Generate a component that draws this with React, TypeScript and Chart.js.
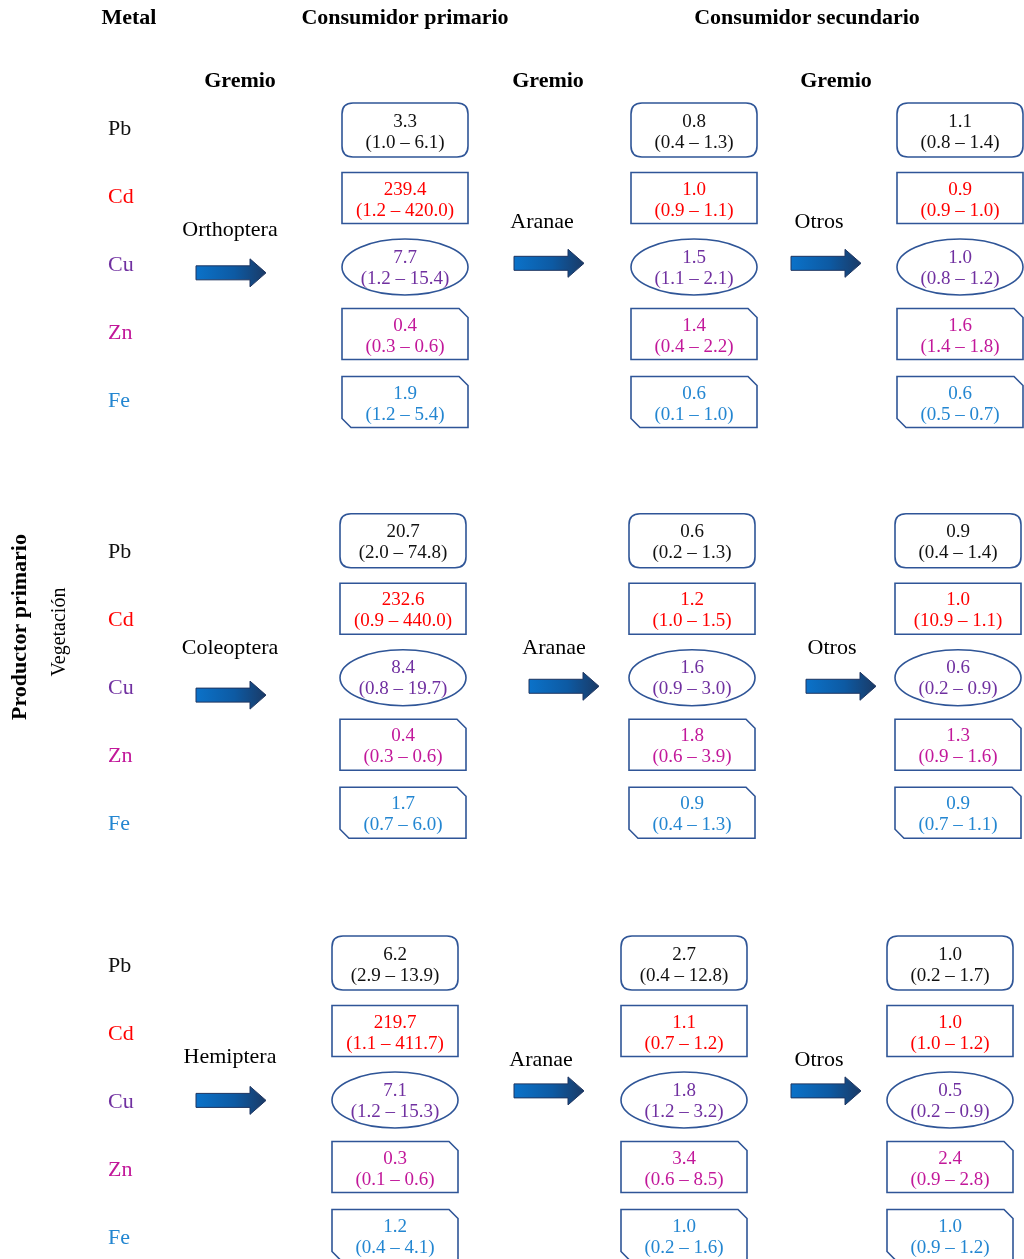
import React, { useEffect, useRef } from 'react';
import { Chart, registerables } from 'chart.js';

Chart.register(...registerables);

// ---------- data ----------
const METALS = ['Pb', 'Cd', 'Cu', 'Zn', 'Fe'];
const GUILDS_1 = ['Orthoptera', 'Coleoptera', 'Hemiptera'];
const GUILDS_2 = ['Aranae', 'Aranae', 'Aranae'];
const GUILDS_3 = ['Otros', 'Otros', 'Otros'];
const HEADERS = ['Metal', 'Consumidor primario', 'Consumidor secundario'];
const SUBHEADER = 'Gremio';
const SIDE_TITLE = 'Productor primario';
const SIDE_SUBTITLE = 'Vegetación';

// Orthoptera chain
const ORTHO_MEAN = [3.3, 239.4, 7.7, 0.4, 1.9];
const ORTHO_LOW = [1.0, 1.2, 1.2, 0.3, 1.2];
const ORTHO_HIGH = [6.1, 420.0, 15.4, 0.6, 5.4];
const ORTHO_ARANAE_MEAN = [0.8, 1.0, 1.5, 1.4, 0.6];
const ORTHO_ARANAE_LOW = [0.4, 0.9, 1.1, 0.4, 0.1];
const ORTHO_ARANAE_HIGH = [1.3, 1.1, 2.1, 2.2, 1.0];
const ORTHO_OTROS_MEAN = [1.1, 0.9, 1.0, 1.6, 0.6];
const ORTHO_OTROS_LOW = [0.8, 0.9, 0.8, 1.4, 0.5];
const ORTHO_OTROS_HIGH = [1.4, 1.0, 1.2, 1.8, 0.7];

// Coleoptera chain
const COLEO_MEAN = [20.7, 232.6, 8.4, 0.4, 1.7];
const COLEO_LOW = [2.0, 0.9, 0.8, 0.3, 0.7];
const COLEO_HIGH = [74.8, 440.0, 19.7, 0.6, 6.0];
const COLEO_ARANAE_MEAN = [0.6, 1.2, 1.6, 1.8, 0.9];
const COLEO_ARANAE_LOW = [0.2, 1.0, 0.9, 0.6, 0.4];
const COLEO_ARANAE_HIGH = [1.3, 1.5, 3.0, 3.9, 1.3];
const COLEO_OTROS_MEAN = [0.9, 1.0, 0.6, 1.3, 0.9];
const COLEO_OTROS_LOW = [0.4, 10.9, 0.2, 0.9, 0.7];
const COLEO_OTROS_HIGH = [1.4, 1.1, 0.9, 1.6, 1.1];

// Hemiptera chain
const HEMI_MEAN = [6.2, 219.7, 7.1, 0.3, 1.2];
const HEMI_LOW = [2.9, 1.1, 1.2, 0.1, 0.4];
const HEMI_HIGH = [13.9, 411.7, 15.3, 0.6, 4.1];
const HEMI_ARANAE_MEAN = [2.7, 1.1, 1.8, 3.4, 1.0];
const HEMI_ARANAE_LOW = [0.4, 0.7, 1.2, 0.6, 0.2];
const HEMI_ARANAE_HIGH = [12.8, 1.2, 3.2, 8.5, 1.6];
const HEMI_OTROS_MEAN = [1.0, 1.0, 0.5, 2.4, 1.0];
const HEMI_OTROS_LOW = [0.2, 1.0, 0.2, 0.9, 0.9];
const HEMI_OTROS_HIGH = [1.7, 1.2, 0.9, 2.8, 1.2];

// ---------- layout / style ----------
const W = 1024;
const H = 1259;
const ROW_PX = 68;
const ROW0_PX = 128;
const GROUP_ROW = [0, 6.22, 12.31];
const BOX_ROW_SHIFT = [0.03, -0.15, -0.03];
const COLUMN_X = [405, 694, 960];
const GROUP_X_SHIFT = [0, -2, -10];
const METAL_COLORS = ['#111111', '#ff0000', '#7030a0', '#c2189a', '#2386d1'];
const SHAPES = ['round', 'rect', 'ellipse', 'snip1', 'snip2'];
const BORDER = '#2f5597';
const FONT = "'Liberation Serif', 'Times New Roman', serif";
const ARROW_START = [
  [196, 514, 791],
  [196, 529, 806],
  [196, 514, 791],
];
const ARROW_ROW = [
  [2.13, 1.99, 1.99],
  [2.12, 1.99, 1.99],
  [1.99, 1.85, 1.85],
];
const GUILD_LABEL_X = [
  [230, 542, 819],
  [230, 554, 832],
  [230, 541, 819],
];
const GUILD_LABEL_ROW = [
  [1.51, 1.38, 1.38],
  [1.43, 1.43, 1.43],
  [1.35, 1.4, 1.4],
];

const CHAINS = [
  [
    [ORTHO_MEAN, ORTHO_LOW, ORTHO_HIGH],
    [ORTHO_ARANAE_MEAN, ORTHO_ARANAE_LOW, ORTHO_ARANAE_HIGH],
    [ORTHO_OTROS_MEAN, ORTHO_OTROS_LOW, ORTHO_OTROS_HIGH],
  ],
  [
    [COLEO_MEAN, COLEO_LOW, COLEO_HIGH],
    [COLEO_ARANAE_MEAN, COLEO_ARANAE_LOW, COLEO_ARANAE_HIGH],
    [COLEO_OTROS_MEAN, COLEO_OTROS_LOW, COLEO_OTROS_HIGH],
  ],
  [
    [HEMI_MEAN, HEMI_LOW, HEMI_HIGH],
    [HEMI_ARANAE_MEAN, HEMI_ARANAE_LOW, HEMI_ARANAE_HIGH],
    [HEMI_OTROS_MEAN, HEMI_OTROS_LOW, HEMI_OTROS_HIGH],
  ],
];

function shapePath(ctx: CanvasRenderingContext2D, shape: string, cx: number, cy: number) {
  const w = 126;
  const h = 51;
  const l = cx - w / 2;
  const r = cx + w / 2;
  const t = cy - h / 2;
  const b = cy + h / 2;
  const s = 9;
  ctx.beginPath();
  if (shape === 'round') {
    const rad = 11;
    const hh = 54;
    const tt = cy - hh / 2;
    const bb = cy + hh / 2;
    ctx.moveTo(l + rad, tt);
    ctx.lineTo(r - rad, tt);
    ctx.quadraticCurveTo(r, tt, r, tt + rad);
    ctx.lineTo(r, bb - rad);
    ctx.quadraticCurveTo(r, bb, r - rad, bb);
    ctx.lineTo(l + rad, bb);
    ctx.quadraticCurveTo(l, bb, l, bb - rad);
    ctx.lineTo(l, tt + rad);
    ctx.quadraticCurveTo(l, tt, l + rad, tt);
  } else if (shape === 'rect') {
    ctx.rect(l, t, w, h);
  } else if (shape === 'ellipse') {
    ctx.ellipse(cx, cy + 1, 63, 28, 0, 0, Math.PI * 2);
  } else if (shape === 'snip1') {
    ctx.moveTo(l, t);
    ctx.lineTo(r - s, t);
    ctx.lineTo(r, t + s);
    ctx.lineTo(r, b);
    ctx.lineTo(l, b);
  } else {
    ctx.moveTo(l, t);
    ctx.lineTo(r - s, t);
    ctx.lineTo(r, t + s);
    ctx.lineTo(r, b);
    ctx.lineTo(l + s, b);
    ctx.lineTo(l, b - s);
  }
  ctx.closePath();
}

function drawArrow(ctx: CanvasRenderingContext2D, x0: number, cy: number) {
  const bodyLen = 54;
  const len = 70;
  const bh = 7;
  const hh = 14;
  const grad = ctx.createLinearGradient(x0, 0, x0 + len, 0);
  grad.addColorStop(0, '#0b72c9');
  grad.addColorStop(0.55, '#0d5aa3');
  grad.addColorStop(1, '#1a3a66');
  ctx.beginPath();
  ctx.moveTo(x0, cy - bh);
  ctx.lineTo(x0 + bodyLen, cy - bh);
  ctx.lineTo(x0 + bodyLen, cy - hh);
  ctx.lineTo(x0 + len, cy);
  ctx.lineTo(x0 + bodyLen, cy + hh);
  ctx.lineTo(x0 + bodyLen, cy + bh);
  ctx.lineTo(x0, cy + bh);
  ctx.closePath();
  ctx.fillStyle = grad;
  ctx.fill();
  ctx.strokeStyle = '#1f3560';
  ctx.lineWidth = 1;
  ctx.stroke();
}

const diagramPlugin = {
  id: 'diagram',
  afterDatasetsDraw(chart: any) {
    const ctx: CanvasRenderingContext2D = chart.ctx;
    const xs = chart.scales.x;
    const ys = chart.scales.y;
    const px = (v: number) => xs.getPixelForValue(v);
    const py = (r: number) => ys.getPixelForValue(r);
    ctx.save();
    ctx.textAlign = 'center';
    ctx.textBaseline = 'middle';

    // headers
    ctx.fillStyle = '#000';
    ctx.font = `bold 22px ${FONT}`;
    const headerRow = (18 - ROW0_PX) / ROW_PX;
    const subRow = (81 - ROW0_PX) / ROW_PX;
    ctx.fillText(HEADERS[0], px(129), py(headerRow));
    ctx.fillText(HEADERS[1], px(405), py(headerRow));
    ctx.fillText(HEADERS[2], px(807), py(headerRow));
    [240, 548, 836].forEach((x) => ctx.fillText(SUBHEADER, px(x), py(subRow)));

    // side titles
    ctx.save();
    ctx.translate(px(20), py((627 - ROW0_PX) / ROW_PX));
    ctx.rotate(-Math.PI / 2);
    ctx.font = `bold 22px ${FONT}`;
    ctx.fillText(SIDE_TITLE, 0, 0);
    ctx.restore();
    ctx.save();
    ctx.translate(px(60), py((632 - ROW0_PX) / ROW_PX));
    ctx.rotate(-Math.PI / 2);
    ctx.font = `20px ${FONT}`;
    ctx.fillText(SIDE_SUBTITLE, 0, 0);
    ctx.restore();

    // metal labels, guild labels, arrows
    GUILDS_1.forEach((g1, g) => {
      ctx.textAlign = 'left';
      ctx.font = `22px ${FONT}`;
      METALS.forEach((m, i) => {
        ctx.fillStyle = METAL_COLORS[i];
        ctx.fillText(m, px(108), py(GROUP_ROW[g] + i + 0.02));
      });
      ctx.textAlign = 'center';
      const names = [g1, GUILDS_2[g], GUILDS_3[g]];
      names.forEach((name, c) => {
        ctx.fillStyle = '#000';
        ctx.font = `22px ${FONT}`;
        ctx.fillText(name, px(GUILD_LABEL_X[g][c]), py(GROUP_ROW[g] + GUILD_LABEL_ROW[g][c]));
        drawArrow(ctx, px(ARROW_START[g][c]), py(GROUP_ROW[g] + ARROW_ROW[g][c]));
      });
    });

    // boxes from datasets
    chart.data.datasets.forEach((ds: any, di: number) => {
      const meta = chart.getDatasetMeta(di);
      meta.data.forEach((pt: any, i: number) => {
        const cx = pt.x;
        const cy = pt.y;
        shapePath(ctx, SHAPES[i], cx, cy);
        ctx.fillStyle = '#ffffff';
        ctx.fill();
        ctx.strokeStyle = BORDER;
        ctx.lineWidth = 1.6;
        ctx.stroke();
        ctx.fillStyle = METAL_COLORS[i];
        ctx.font = `19px ${FONT}`;
        ctx.textAlign = 'center';
        ctx.fillText(ds.mean[i].toFixed(1), cx, cy - 8.5);
        ctx.fillText(`(${ds.low[i].toFixed(1)} – ${ds.high[i].toFixed(1)})`, cx, cy + 12.5);
      });
    });
    ctx.restore();
  },
};

export default function App() {
  const ref = useRef<HTMLCanvasElement | null>(null);
  useEffect(() => {
    if (!ref.current) return;
    const datasets: any[] = [];
    CHAINS.forEach((chain, g) => {
      chain.forEach(([mean, low, high], c) => {
        datasets.push({
          label: `${GUILDS_1[g]}-${c}`,
          mean,
          low,
          high,
          data: mean.map((_, i) => ({
            x: COLUMN_X[c] + GROUP_X_SHIFT[g],
            y: GROUP_ROW[g] + i + BOX_ROW_SHIFT[g],
          })),
          pointRadius: 0,
          pointHoverRadius: 0,
          showLine: false,
        });
      });
    });
    const chart = new Chart(ref.current, {
      type: 'scatter',
      data: { datasets },
      options: {
        animation: false,
        responsive: false,
        layout: { padding: 0 },
        events: [],
        plugins: { legend: { display: false }, tooltip: { enabled: false }, title: { display: false } },
        scales: {
          x: { type: 'linear', display: false, min: 0, max: W },
          y: {
            type: 'linear',
            display: false,
            reverse: true,
            min: -ROW0_PX / ROW_PX,
            max: (H - ROW0_PX) / ROW_PX,
          },
        },
      },
      plugins: [diagramPlugin],
    } as any);
    return () => chart.destroy();
  }, []);
  return (
    <div style={{ position: 'absolute', left: 0, top: 0, width: W, height: H, background: '#fff' }}>
      <canvas ref={ref} width={W} height={H} style={{ display: 'block', width: W, height: H }} />
    </div>
  );
}
